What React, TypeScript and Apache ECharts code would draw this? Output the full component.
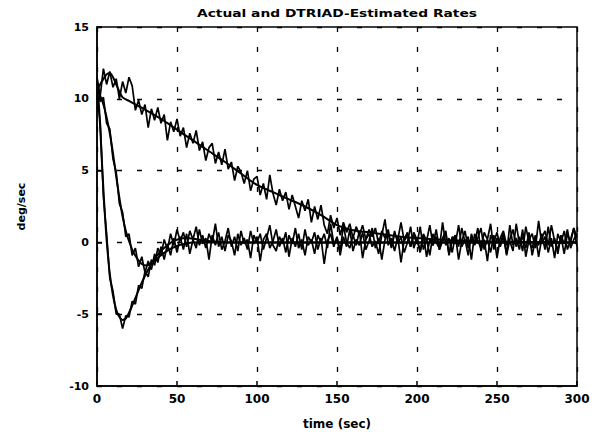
import React, { useEffect, useRef } from "react";
import * as echarts from "echarts";

const titleText = "Actual and DTRIAD-Estimated Rates";
const xName = "time (sec)";
const yName = "deg/sec";
const xTicks = { min: 0, max: 300, interval: 50 };
const yTicks = { min: -10, max: 15, interval: 5 };

// smooth "actual" rates
const slowTime = [0, 3, 6, 8, 10, 12, 14, 16, 20, 30, 40, 50, 60, 70, 80, 90, 100, 110, 120, 130, 140, 150, 160, 170, 180, 190, 200, 220, 250, 300];
const slowValues = [10.6, 11.2, 11.7, 11.8, 11.5, 11.0, 10.5, 10.1, 9.85, 9.25, 8.6, 7.85, 7.1, 6.35, 5.6, 4.8, 4.0, 3.5, 3.0, 2.5, 1.9, 1.2, 0.85, 0.7, 0.55, 0.4, 0.3, 0.15, 0.05, 0];

const fastATime = [0, 1, 2, 3, 4, 5, 6, 7, 8, 10, 12, 14, 16, 18, 20, 22, 25, 28, 31, 34, 37, 40, 44, 48, 52, 56, 60, 70, 80, 300];
const fastAValues = [10.5, 9.8, 8.0, 5.8, 3.7, 1.8, 0.2, -1.1, -2.2, -3.7, -4.7, -5.2, -5.4, -5.3, -4.9, -4.4, -3.6, -2.8, -2.1, -1.5, -1.0, -0.6, -0.2, 0.1, 0.25, 0.3, 0.25, 0.1, 0, 0];

const fastBTime = [0, 2, 4, 6, 8, 10, 12, 14, 16, 18, 20, 22, 25, 28, 31, 34, 37, 40, 45, 50, 55, 60, 300];
const fastBValues = [10.5, 10.2, 9.6, 8.7, 7.6, 6.2, 4.6, 3.1, 1.8, 0.8, 0.1, -0.5, -1.1, -1.5, -1.6, -1.5, -1.2, -0.9, -0.5, -0.25, -0.1, 0, 0];

// noisy DTRIAD estimates, sampled every 2 s
const estTime = [
  0, 2, 4, 6, 8, 10, 12, 14, 16, 18, 20, 22, 24, 26, 28, 30, 32, 34, 36, 38,
  40, 42, 44, 46, 48, 50, 52, 54, 56, 58, 60, 62, 64, 66, 68, 70, 72, 74, 76, 78,
  80, 82, 84, 86, 88, 90, 92, 94, 96, 98, 100, 102, 104, 106, 108, 110, 112, 114, 116, 118,
  120, 122, 124, 126, 128, 130, 132, 134, 136, 138, 140, 142, 144, 146, 148, 150, 152, 154, 156, 158,
  160, 162, 164, 166, 168, 170, 172, 174, 176, 178, 180, 182, 184, 186, 188, 190, 192, 194, 196, 198,
  200, 202, 204, 206, 208, 210, 212, 214, 216, 218, 220, 222, 224, 226, 228, 230, 232, 234, 236, 238,
  240, 242, 244, 246, 248, 250, 252, 254, 256, 258, 260, 262, 264, 266, 268, 270, 272, 274, 276, 278,
  280, 282, 284, 286, 288, 290, 292, 294, 296, 298, 300,
];

const estSlow = [
  11.5, 10.2, 12.1, 11.0, 11.9, 10.8, 11.4, 10.0, 11.2, 10.4, 11.5, 10.9, 9.2, 9.9, 8.9, 9.6, 8.0, 9.3, 8.5, 9.4,
  8.3, 8.9, 7.1, 8.4, 7.7, 8.6, 7.4, 8.0, 6.6, 7.6, 6.9, 7.8, 6.4, 7.0, 5.7, 6.6, 6.9, 5.5, 6.3, 5.4,
  6.5, 5.1, 5.6, 4.3, 5.3, 4.9, 4.1, 5.0, 3.6, 4.4, 4.6, 3.3, 4.1, 3.0, 4.7, 3.4, 2.6, 3.7, 2.9, 3.5,
  2.3, 3.3, 2.5, 1.7, 2.9, 2.2, 3.0, 1.4, 2.5, 1.6, 2.6, 1.2, 0.6, 1.9, 1.0, 1.7, 0.5, 1.4, 0.7, 1.3,
  0.3, 1.1, 0.5, 1.2, 0.2, 0.9, 0.4, 1.0, -0.1, 0.8, 0.3, 0.9, -0.4, 0.6, 0.2, 1.4, 0.1, 0.5, -0.3, 0.7,
  0.2, -0.7, 0.6, 0.1, 1.2, -0.2, 0.4, -0.5, 0.3, 0.8, -0.9, 0.2, 0.5, -0.3, 1.0, 0.0, 0.4, -1.2, 0.6, 0.1,
  -0.4, 0.7, 0.2, 1.3, -0.5, 0.3, -0.1, 0.6, -0.9, 0.2, 0.9, -0.3, 0.4, -0.6, 1.1, 0.0, -0.4, 0.5, -1.0, 0.3,
  0.8, -0.2, 1.2, 0.1, -0.5, 0.4, -0.8, 0.6, 0.0, 1.0, 0.3,
];

const estFastA = [
  10.2, 8.4, 3.2, 0.6, -2.5, -3.4, -5.0, -5.0, -6.0, -5.1, -5.2, -4.1, -4.3, -3.0, -3.2, -2.0, -2.4, -1.2, -1.6, -0.4,
  -0.9, 0.2, -0.5, 0.6, -0.2, 0.9, 0.1, 0.7, -0.3, 0.8, 0.2, 1.1, -0.2, 0.5, -0.4, 0.6, 0.0, 1.3, -0.3, 0.4,
  -0.6, 0.5, 0.1, -0.9, 0.6, -0.2, 0.3, -0.5, 0.8, -0.1, 0.4, -1.3, 0.2, 0.6, -0.4, 0.1, 0.9, -0.3, 0.3, -0.7,
  0.5, -0.1, 1.0, -0.4, 0.2, -0.9, 0.4, 0.0, 0.7, -0.5, 0.3, -1.5, 0.1, 0.6, -0.3, 0.4, -0.6, 1.2, 0.0, -0.4,
  0.5, -0.2, 0.8, -1.1, 0.2, 0.6, -0.3, 0.1, -0.8, 0.5, 1.6, -0.2, 0.3, -0.6, 0.4, -1.4, 0.2, 0.7, -0.3, 0.5,
  -0.1, 1.1, -0.5, 0.2, -0.9, 0.6, 0.0, -0.4, 1.4, -0.2, 0.3, -0.7, 0.5, -1.2, 0.1, 0.8, -0.4, 0.3, -0.1, 1.0,
  -0.6, 0.2, -1.3, 0.5, 0.0, 0.7, -0.3, 0.4, -0.8, 1.2, -0.2, 0.3, -0.5, 0.9, -1.0, 0.2, 0.6, -0.4, 1.5, -0.1,
  0.4, -0.7, 0.3, -1.1, 0.6, 0.0, 0.8, -0.5, 0.2, 1.0, -0.3,
];

const estFastB = [
  11.2, 9.8, 10.1, 8.3, 7.9, 5.8, 4.9, 2.7, 2.1, 0.4, 0.6, -0.9, -0.4, -1.7, -1.0, -2.1, -1.3, -1.9, -0.8, -1.4,
  -0.3, -1.2, -0.1, -0.9, 0.3, -0.7, 0.4, -0.5, 0.6, -0.8, 0.2, -0.4, 0.9, -0.1, 0.3, -1.2, 0.5, -0.2, 0.7, -0.5,
  0.1, 1.0, -0.3, 0.4, -0.6, 0.8, -0.1, 0.2, -1.1, 0.5, 0.0, 0.6, -0.5, 0.3, 1.2, -0.2, -0.6, 0.4, -0.1, 0.7,
  -1.0, 0.3, -0.3, 0.6, -0.5, 0.9, -0.2, 0.2, -0.8, 0.5, 0.0, 0.6, -0.4, 1.3, -0.1, 0.3, -0.9, 0.4, -0.3, 0.9,
  -0.6, 0.2, -0.2, 0.7, -0.5, 0.1, 1.0, -0.4, 0.3, -1.2, 0.2, 0.6, -0.3, 0.8, -0.1, 0.4, -0.7, 0.0, 1.1, -0.4,
  0.3, -0.6, 0.5, -1.0, 0.2, -0.2, 0.9, -0.5, 0.1, 0.6, -0.8, 0.4, -0.1, 1.2, -0.3, 0.2, -0.9, 0.6, -0.2, 0.3,
  1.0, -0.5, 0.2, -0.7, 0.5, -1.1, 0.3, 0.8, -0.2, 0.1, -0.6, 1.3, -0.1, 0.4, -0.4, 0.7, -0.9, 0.2, -0.2, 0.6,
  -0.5, 1.1, -0.3, 0.3, -0.8, 0.5, -0.1, 0.9, -0.4, 0.2, 0.6,
];

const FONT = "'DejaVu Sans', 'Liberation Sans', sans-serif";

function pairs(t: number[], v: number[]) {
  const n = Math.min(t.length, v.length);
  const out: number[][] = [];
  for (let i = 0; i < n; i++) out.push([t[i], v[i]]);
  return out;
}

export default function App() {
  const ref = useRef<HTMLDivElement>(null);
  useEffect(() => {
    document.body.style.margin = "0";
    if (!ref.current) return;
    const chart = echarts.init(ref.current, null, { renderer: "svg" });
    const lineBase = {
      type: "line",
      showSymbol: false,
      symbol: "none",
      silent: true,
    };
    chart.setOption({
      animation: false,
      backgroundColor: "#fff",
      grid: {
        left: 97,
        right: 29,
        top: 27,
        bottom: 46,
        show: true,
        borderColor: "#000",
        borderWidth: 1.5,
        containLabel: false,
        outerBoundsMode: "none",
      },
      graphic: [
        {
          type: "text",
          x: 337,
          y: 14,
          scaleX: 1.38,
          style: {
            text: titleText,
            fontSize: 10,
            fontWeight: "bold",
            fontFamily: FONT,
            fill: "#000",
            align: "center",
            verticalAlign: "middle",
          },
        },
      ],
      xAxis: {
        type: "value",
        min: xTicks.min,
        max: xTicks.max,
        interval: xTicks.interval,
        name: xName,
        nameLocation: "middle",
        nameGap: 32,
        nameTextStyle: { fontSize: 12, fontWeight: "bold", fontFamily: FONT, color: "#000" },
        axisLine: { show: true, onZero: false, lineStyle: { color: "#000", width: 1.5 } },
        axisTick: { show: true, inside: true, length: 5, lineStyle: { color: "#000", width: 1.5 } },
        axisLabel: { margin: 7, fontSize: 12, fontWeight: "bold", fontFamily: FONT, color: "#000" },
        splitLine: { show: true, lineStyle: { color: "#000", width: 1.3, type: [5, 15] } },
      },
      yAxis: {
        type: "value",
        min: yTicks.min,
        max: yTicks.max,
        interval: yTicks.interval,
        name: yName,
        nameLocation: "middle",
        nameGap: 70,
        nameRotate: 90,
        nameTextStyle: { fontSize: 11, fontWeight: "bold", fontFamily: FONT, color: "#000" },
        axisLine: { show: true, onZero: false, lineStyle: { color: "#000", width: 1.5 } },
        axisTick: { show: true, inside: true, length: 5, lineStyle: { color: "#000", width: 1.5 } },
        axisLabel: { margin: 8, fontSize: 11, fontWeight: "bold", fontFamily: FONT, color: "#000" },
        splitLine: { show: true, lineStyle: { color: "#000", width: 1.3, type: [5, 15] } },
      },
      series: [
        { ...lineBase, name: "Estimated slow", data: pairs(estTime, estSlow), lineStyle: { color: "#000", width: 1.7 } },
        { ...lineBase, name: "Estimated fast A", data: pairs(estTime, estFastA), lineStyle: { color: "#000", width: 1.7 } },
        { ...lineBase, name: "Estimated fast B", data: pairs(estTime, estFastB), lineStyle: { color: "#000", width: 1.7 } },
        { ...lineBase, name: "Actual slow", smooth: 0.3, data: pairs(slowTime, slowValues), lineStyle: { color: "#000", width: 2 } },
        { ...lineBase, name: "Actual fast A", smooth: 0.3, data: pairs(fastATime, fastAValues), lineStyle: { color: "#000", width: 2 } },
        { ...lineBase, name: "Actual fast B", smooth: 0.3, data: pairs(fastBTime, fastBValues), lineStyle: { color: "#000", width: 2 } },
      ],
    });
    return () => chart.dispose();
  }, []);
  return <div ref={ref} style={{ width: 606, height: 432 }} />;
}
